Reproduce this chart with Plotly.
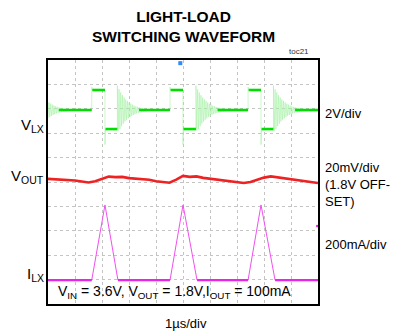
import plotly.graph_objects as go

# ---------------- data (time in µs, amplitude in scope divisions) ----------------
# V_LX switching node
vlx_idle = 7.95
vlx_high = 8.77
vlx_low = 7.17
vlx_rise_spike = 8.89
vlx_fall_spike = 6.53
vlx_rise = [1.62, 4.52, 7.41]
vlx_fall = [2.11, 5.00, 7.89]
vlx_ring_start = [-0.40, 2.57, 5.48, 8.35]
ring_step = 0.031
ring_offsets = [1.00, -0.85, 0.85, -0.78, 0.72, -0.66, 0.61, -0.56, 0.51, -0.47,
                0.43, -0.40, 0.37, -0.34, 0.31, -0.28, 0.26, -0.24, 0.22, -0.20,
                0.18, -0.17, 0.15, -0.14, 0.13, -0.12, 0.11, -0.10, 0.09, -0.085,
                0.08, -0.07, 0.065, -0.06, 0.055, -0.05, 0.045, -0.04, 0.035, -0.03,
                0.03, -0.025, 0.02, -0.02, 0.015, -0.01, 0.01, 0.0]
ring_settle = 0.8

# V_OUT ripple (AC, 20mV/div)
vout_t = [0.00, 0.25, 0.50, 0.75, 1.00, 1.25, 1.50, 1.75, 2.00, 2.25, 2.50,
          2.75, 3.00, 3.25, 3.50, 3.75, 4.00, 4.25, 4.50, 4.75, 5.00,
          5.25, 5.50, 5.75, 6.00, 6.25, 6.50, 6.75, 7.00, 7.25, 7.50,
          7.75, 8.00, 8.25, 8.50, 8.75, 9.00, 9.25, 9.50, 9.75, 10.0]
vout_v = [5.13, 5.11, 5.12, 5.07, 5.06, 5.02, 4.98, 5.03, 5.12, 5.22, 5.20,
          5.21, 5.16, 5.14, 5.10, 5.09, 5.03, 4.99, 4.97, 5.10, 5.25,
          5.21, 5.23, 5.17, 5.13, 5.09, 5.07, 5.03, 4.99, 4.96, 5.00,
          5.09, 5.18, 5.23, 5.19, 5.17, 5.12, 5.09, 5.05, 5.00, 4.96]

# I_LX inductor current
ilx_base = 0.98
ilx_peak = 4.06
ilx_start = [1.62, 4.52, 7.41]
ilx_top = [2.11, 5.00, 7.89]
ilx_end = [2.59, 5.52, 8.41]

trigger_t = [4.90]
trigger_level = [9.87]
ch_marker_t = [9.97]
ch_marker_v = [3.2]

t_max = 10.0

# ---------------- build traces ----------------
def ring_points(t0, t_limit):
    xs, ys = [], []
    for k, v in enumerate(ring_offsets):
        t = t0 + k * ring_step
        if 0 <= t <= t_limit:
            xs.append(t)
            ys.append(vlx_idle + v)
    return xs, ys

vx, vy = [], []
fx, fy = [], []
for i, rs in enumerate(vlx_ring_start):
    nxt = vlx_rise[i] if i < len(vlx_rise) else t_max
    if i > 0:
        vx += [rs]
        vy += [vlx_low]
    rx, ry = ring_points(rs, nxt)
    vx += rx
    vy += ry
    vx += [nxt]
    vy += [vlx_idle]
    fx += [max(0.0, rs + ring_settle), nxt, None]
    fy += [vlx_idle, vlx_idle, None]
    if i < len(vlx_rise):
        r, f = vlx_rise[i], vlx_fall[i]
        vx += [r, r + 0.02, f, f, f + 0.02]
        vy += [vlx_rise_spike, vlx_high, vlx_high, vlx_fall_spike, vlx_low]
        fx += [r + 0.02, f, None, f + 0.02, vlx_ring_start[i + 1], None]
        fy += [vlx_high, vlx_high, None, vlx_low, vlx_low, None]

ix, iy = [0.0], [ilx_base]
bx, by = [0.0], [ilx_base]
for s, p, e in zip(ilx_start, ilx_top, ilx_end):
    ix += [s, p, e]
    iy += [ilx_base, ilx_peak, ilx_base]
    bx += [s, None, e]
    by += [ilx_base, None, ilx_base]
ix.append(t_max)
iy.append(ilx_base)
bx.append(t_max)
by.append(ilx_base)

fig = go.Figure()
fig.add_trace(go.Scatter(x=vx, y=vy, mode="lines",
                         line=dict(color="#a6f2a6", width=0.6), hoverinfo="skip"))
fig.add_trace(go.Scatter(x=fx, y=fy, mode="lines",
                         line=dict(color="#00dd00", width=2.6), hoverinfo="skip"))
fig.add_trace(go.Scatter(x=vout_t, y=vout_v, mode="lines",
                         line=dict(color="#ee2222", width=2.6), hoverinfo="skip"))
fig.add_trace(go.Scatter(x=ix, y=iy, mode="lines",
                         line=dict(color="#f050f0", width=1.0), hoverinfo="skip"))
fig.add_trace(go.Scatter(x=bx, y=by, mode="lines",
                         line=dict(color="#ee22ee", width=2.4), hoverinfo="skip"))
fig.add_trace(go.Scatter(x=trigger_t, y=trigger_level, mode="markers",
                         marker=dict(color="#3388ff", size=4, symbol="square"),
                         hoverinfo="skip"))
fig.add_trace(go.Scatter(x=ch_marker_t, y=ch_marker_v, mode="markers",
                         marker=dict(color="#ee22ee", size=2.5),
                         hoverinfo="skip"))

FONT = "Liberation Sans, Arial, sans-serif"
axis_common = dict(showgrid=True, gridcolor="#c4c4c4", griddash="dot", gridwidth=1,
                   zeroline=False, showticklabels=False, ticks="",
                   showline=True, linecolor="black", linewidth=2, mirror=True,
                   dtick=1, fixedrange=True)
fig.update_xaxes(range=[0, t_max], tick0=0, **axis_common)
fig.update_yaxes(range=[0, 10], tick0=0, **axis_common)

def px_x(px):
    return (px - 48) / 270.0

def px_y(py):
    return (304 - py) / 244.0

ann = []
ann.append(dict(text="<b>LIGHT-LOAD<br>SWITCHING WAVEFORM</b>", x=px_x(183), y=px_y(27),
                xanchor="center", yanchor="middle", showarrow=False,
                font=dict(family="Liberation Sans Narrow, Arial Narrow, Liberation Sans",
                          size=15.5, color="black")))
ann.append(dict(text="toc21", x=px_x(311), y=px_y(52), xanchor="right", yanchor="middle",
                showarrow=False, font=dict(family=FONT, size=8, color="#333")))
for txt, py in [("V<sub>LX</sub>", 125), ("V<sub>OUT</sub>", 176), ("I<sub>LX</sub>", 274)]:
    ann.append(dict(text=txt, x=px_x(46), y=px_y(py), xanchor="right", yanchor="middle",
                    showarrow=False, font=dict(family=FONT, size=15, color="black")))
for txt, py in [("2V/div", 113), ("20mV/div<br>(1.8V OFF-<br>SET)", 184), ("200mA/div", 244)]:
    ann.append(dict(text=txt, x=px_x(323), y=px_y(py), xanchor="left", yanchor="middle",
                    align="left", showarrow=False,
                    font=dict(family=FONT, size=13, color="black")))
ann.append(dict(text="V<sub>IN</sub> = 3.6V, V<sub>OUT</sub> = 1.8V,I<sub>OUT</sub> = 100mA",
                x=px_x(56), y=px_y(292), xanchor="left", yanchor="middle",
                showarrow=False, font=dict(family=FONT, size=14, color="black")))
ann.append(dict(text="1µs/div", x=px_x(186), y=px_y(323), xanchor="center", yanchor="middle",
                showarrow=False, font=dict(family=FONT, size=13, color="black")))
for a in ann:
    a["xref"] = "paper"
    a["yref"] = "paper"

fig.update_layout(width=397, height=334, margin=dict(l=48, r=79, t=60, b=30),
                  paper_bgcolor="white", plot_bgcolor="white", showlegend=False,
                  annotations=ann)

fig.write_html("out.html", config={"displayModeBar": False},
               post_script="document.body.style.margin='0px';"
                           "document.body.style.overflow='hidden';")
